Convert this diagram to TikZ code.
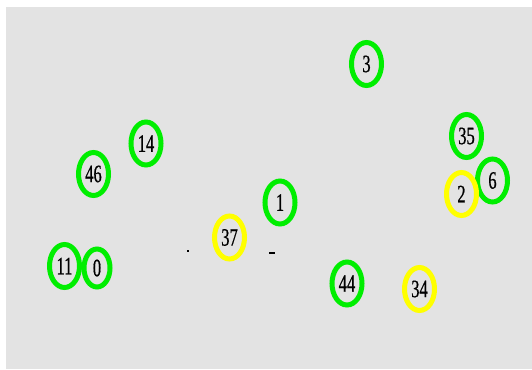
\documentclass[tikz,border=0pt]{standalone}
\usepackage{fontspec}
\newfontfamily\numfont[FakeStretch=0.66,FakeBold=0.6]{Liberation Serif}
\usetikzlibrary{shapes.geometric}
\definecolor{pane}{HTML}{E3E3E3}
\definecolor{lime}{HTML}{00EE00}
\definecolor{sun}{HTML}{FFFF00}

\begin{document}
\begin{tikzpicture}[x=1pt,y=-1pt,
   v/.style={ellipse,draw,line width=5pt,inner sep=0pt,minimum width=30pt,minimum height=43pt,
     font=\numfont\fontsize{25}{25}\selectfont},
   gv/.style={v,draw=lime},
   yv/.style={v,draw=sun}]
  \useasboundingbox (0,0) rectangle (532,369);
  \fill[pane] (6,7) rectangle (532,369);
  \node[gv] (n3)  at (366.5,64)  {3};
  \node[gv] (n14) at (146,143.5) {14};
  \node[gv] (n35) at (466.5,136) {35};
  \node[gv] (n46) at (93.5,174)  {46};
  \node[gv] (n6)  at (492.5,180.5) {6};
  \node[yv] (n2)  at (461.5,194) {2};
  \node[gv] (n1)  at (280,202.5) {1};
  \node[yv] (n37) at (229.5,237.5) {37};
  \node[gv] (n11) at (64.5,266)  {11};
  \node[gv,minimum width=26pt,minimum height=38pt] (n0) at (97,268) {0};
  \node[gv] (n44) at (347,283.5) {44};
  \node[yv] (n34) at (419.5,289) {34};
  % stray marks
  \fill (187,249.5) rectangle (189,251.5);
  \fill (269,251.5) rectangle (275,253.5);
\end{tikzpicture}
\end{document}
